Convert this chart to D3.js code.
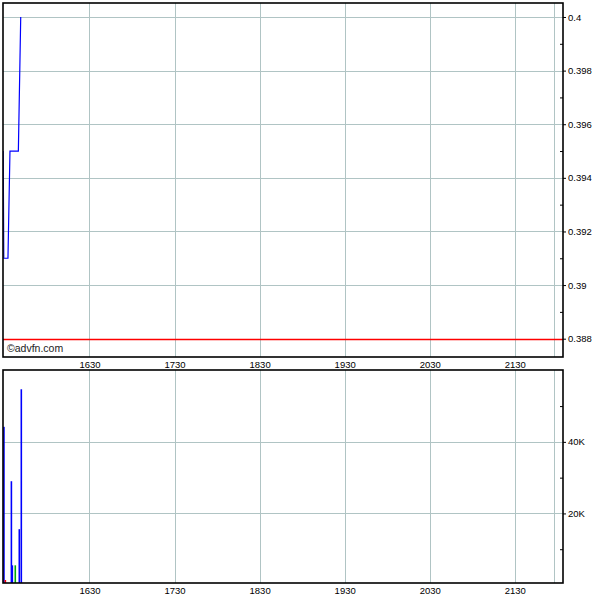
<!DOCTYPE html>
<html><head><meta charset="utf-8">
<script src="https://cdn.jsdelivr.net/npm/d3@7"></script>
<style>
body{margin:0;background:#fff;}
svg{display:block;font-family:"Liberation Sans",Arial,sans-serif;}
</style></head>
<body>
<svg id="c" width="600" height="600"></svg>
<script>
// ---- data ----
const priceTimes = ["15:29:08","15:29:34","15:32:30","15:33:55","15:39:50","15:41:30"];
const priceValues = [0.395, 0.391, 0.391, 0.395, 0.395, 0.400];
const prevClose = 0.388;
const volTimes  = ["15:29:40","15:30:40","15:34:55","15:35:35","15:37:40","15:40:30","15:41:55","15:42:15"];
const volValues = [44200, 1400, 29000, 5500, 5500, 15600, 54700, 600];
const volKinds  = ["buy","sell","buy","buy","neutral","buy","buy","sell"];
const timeTicks = ["16:30","17:30","18:30","19:30","20:30","21:30"];
const timeTickLabels = ["1630","1730","1830","1930","2030","2130"];
const sessionEnd = "21:58";
const priceTicks = [0.388,0.390,0.392,0.394,0.396,0.398,0.400];
const priceTickLabels = ["0.388","0.39","0.392","0.394","0.396","0.398","0.4"];
const priceMinor = [0.389,0.391,0.393,0.395,0.397,0.399];
const volTicks = [20000,40000];
const volTickLabels = ["20K","40K"];
const volMinor = [10000,30000,50000];

// ---- helpers ----
const toMin = s => { const p = s.split(":").map(Number); return p[0]*60 + p[1] + (p[2]||0)/60; };
const kindColor = {buy:"#0000ff", sell:"#ff0000", neutral:"#00aa00"};
const gridColor = "#b0c4c4";

const svg = d3.select("#c");
const L = 3, R = 563;
const P = {top:3, bottom:357};
const V = {top:370, bottom:583};

const x = d3.scaleLinear().domain([929, 1324]).range([L, R]);
const yP = d3.scaleLinear().domain([0.387317, 0.400522]).range([P.bottom, P.top]);
const yV = d3.scaleLinear().domain([0, 60000]).range([585, 370.3]);

svg.append("defs").append("clipPath").attr("id","clipV")
  .append("rect").attr("x",L).attr("y",V.top).attr("width",R-L).attr("height",V.bottom-V.top);
svg.select("defs").append("clipPath").attr("id","clipP")
  .append("rect").attr("x",L).attr("y",P.top).attr("width",R-L).attr("height",P.bottom-P.top);

const gridXs = timeTicks.concat([sessionEnd]).map(toMin);

function vgrid(panel){
  svg.append("g").selectAll("line").data(gridXs).join("line")
    .attr("x1",d=>Math.round(x(d))+0.5).attr("x2",d=>Math.round(x(d))+0.5)
    .attr("y1",panel.top).attr("y2",panel.bottom)
    .attr("stroke",gridColor).attr("stroke-width",1);
}

// ---- price panel ----
vgrid(P);
svg.append("g").selectAll("line").data(priceTicks.filter(v=>v!==prevClose)).join("line")
  .attr("x1",L).attr("x2",R)
  .attr("y1",d=>Math.round(yP(d))+0.5).attr("y2",d=>Math.round(yP(d))+0.5)
  .attr("stroke",gridColor);
svg.append("line").attr("x1",L).attr("x2",R)
  .attr("y1",Math.round(yP(prevClose))+0.5).attr("y2",Math.round(yP(prevClose))+0.5)
  .attr("stroke","#ff0000").attr("stroke-width",1.3);

const pts = priceTimes.map((t,i)=>[toMin(t), priceValues[i]]);
svg.append("path").datum(pts)
  .attr("clip-path","url(#clipP)")
  .attr("d", d3.line().x(d=>x(d[0])).y(d=>yP(d[1])))
  .attr("fill","none").attr("stroke","#0000ff").attr("stroke-width",1.2);

svg.append("text").attr("x",7).attr("y",352).attr("font-size",10.5)
  .attr("fill","#222").text("©advfn.com");

svg.append("rect").attr("x",L).attr("y",P.top).attr("width",R-L).attr("height",P.bottom-P.top)
  .attr("fill","none").attr("stroke","#000").attr("stroke-width",1.6);

const axP = svg.append("g").attr("transform",`translate(${R},0)`)
  .call(d3.axisRight(yP).tickValues(priceTicks).tickSize(3).tickPadding(2)
    .tickFormat((d,i)=>priceTickLabels[i]));
svg.append("g").attr("transform",`translate(${R},0)`)
  .call(d3.axisRight(yP).tickValues(priceMinor).tickSize(-3).tickFormat(""))
  .select(".domain").remove();

// time labels between panels
svg.append("g").attr("transform",`translate(0,${P.bottom+1})`)
  .call(d3.axisBottom(x).tickValues(timeTicks.map(toMin)).tickSize(0).tickPadding(3)
    .tickFormat((d,i)=>timeTickLabels[i]))
  .select(".domain").remove();

// ---- volume panel ----
vgrid(V);
svg.append("g").selectAll("line").data(volTicks).join("line")
  .attr("x1",L).attr("x2",R)
  .attr("y1",d=>Math.round(yV(d))+0.5).attr("y2",d=>Math.round(yV(d))+0.5)
  .attr("stroke",gridColor);

svg.append("g").attr("clip-path","url(#clipV)").selectAll("rect")
  .data(volTimes.map((t,i)=>({t:toMin(t), v:volValues[i], k:volKinds[i]}))).join("rect")
  .attr("x",d=>x(d.t)-0.8).attr("width",1.6)
  .attr("y",d=>yV(d.v)).attr("height",d=>yV(0)-yV(d.v))
  .attr("fill",d=>kindColor[d.k]);

svg.append("rect").attr("x",L).attr("y",V.top).attr("width",R-L).attr("height",V.bottom-V.top)
  .attr("fill","none").attr("stroke","#000").attr("stroke-width",1.6);

svg.append("g").attr("transform",`translate(${R},0)`)
  .call(d3.axisRight(yV).tickValues(volTicks).tickSize(3).tickPadding(2)
    .tickFormat((d,i)=>volTickLabels[i]))
  .select(".domain").remove();
svg.append("g").attr("transform",`translate(${R},0)`)
  .call(d3.axisRight(yV).tickValues(volMinor).tickSize(-3).tickFormat(""))
  .select(".domain").remove();

svg.append("g").attr("transform",`translate(0,${V.bottom+1})`)
  .call(d3.axisBottom(x).tickValues(timeTicks.map(toMin)).tickSize(0).tickPadding(3)
    .tickFormat((d,i)=>timeTickLabels[i]))
  .select(".domain").remove();

svg.selectAll(".tick text").attr("font-size",9.5).attr("fill","#000")
  .attr("font-family","'Liberation Sans',Arial,sans-serif");
svg.selectAll(".tick line").attr("stroke","#000");
axP.select(".domain").remove();
</script>
</body></html>
